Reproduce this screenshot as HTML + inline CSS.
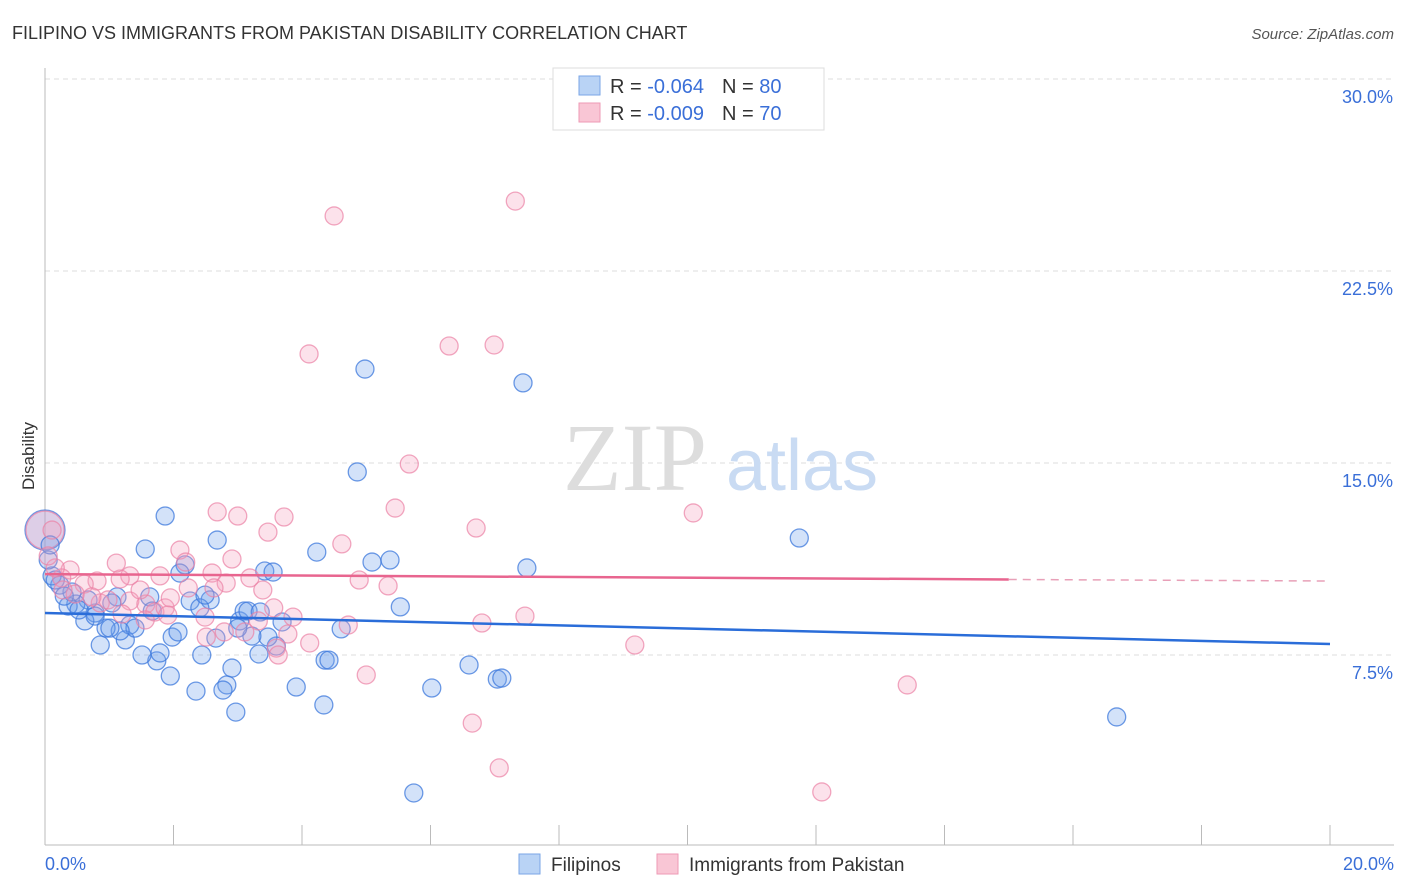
<!DOCTYPE html>
<html><head><meta charset="utf-8"><style>
body{margin:0;background:#fff;font-family:"Liberation Sans",sans-serif;}
svg{display:block}
</style></head><body>
<svg id="chart" width="1406" height="892">
<text x="12" y="39" font-size="18" fill="#333">FILIPINO VS IMMIGRANTS FROM PAKISTAN DISABILITY CORRELATION CHART</text>
<text x="1394" y="39" font-size="15" fill="#555" font-style="italic" text-anchor="end">Source: ZipAtlas.com</text>
<text x="34" y="456" font-size="17" fill="#333" text-anchor="middle" transform="rotate(-90 34 456)">Disability</text>
<g id="grid"></g>
<text x="635" y="490" font-size="96" fill="#ddd" font-family="Liberation Serif" text-anchor="middle">ZIP</text>
<text x="802" y="490" font-size="72" fill="#c9dbf3" text-anchor="middle">atlas</text>
<g id="marks"></g>
<g>
<rect x="553" y="68" width="271" height="62" fill="#fff" stroke="#ddd"/>
<rect x="579" y="76" width="21" height="19" fill="#b9d3f5" stroke="#7aa6e6"/>
<rect x="579" y="103" width="21" height="19" fill="#f9c6d5" stroke="#ee9ab5"/>
<text x="610" y="93" font-size="20" fill="#333">R = <tspan fill="#3a6fd8">-0.064</tspan><tspan dx="18">N = </tspan><tspan fill="#3a6fd8">80</tspan></text>
<text x="610" y="120" font-size="20" fill="#333">R = <tspan fill="#3a6fd8">-0.009</tspan><tspan dx="18">N = </tspan><tspan fill="#3a6fd8">70</tspan></text>
</g>
<g>
<rect x="519" y="854" width="21" height="20" fill="#b9d3f5" stroke="#7aa6e6"/>
<text x="551" y="871" font-size="19" fill="#333">Filipinos</text>
<rect x="657" y="854" width="21" height="20" fill="#f9c6d5" stroke="#ee9ab5"/>
<text x="689" y="871" font-size="19" fill="#333">Immigrants from Pakistan</text>
</g>
</svg>
<script>
const yTicks=[7.5,15,22.5,30];
const yTickLabels=["7.5%","15.0%","22.5%","30.0%"];
const xTickLabels=["0.0%","20.0%"];
const blueX=[1.87,1.56,2.68,2.18,2.10,3.42,3.55,4.23,4.86,4.98,7.44,5.09,5.37,7.50,11.74,5.53,16.68,5.74,6.02,6.60,7.04,7.11,4.36,4.42,4.34,3.91,2.97,2.83,2.77,2.35,1.95,1.74,1.51,1.79,2.44,2.91,3.33,3.60,3.47,3.22,3.03,3.10,3.16,3.69,4.61,2.57,2.26,1.63,1.67,1.12,1.04,0.78,0.62,0.86,1.25,1.32,1.40,1.17,0.95,0.67,0.48,0.36,0.42,0.23,0.11,0.16,0.05,0.08,0.78,1.98,2.41,2.66,3.00,3.35,2.07,0.53,0.30,1.01,2.49];
const blueY=[12.93,11.64,11.99,11.02,10.70,10.78,10.74,11.52,14.65,18.67,18.13,11.13,11.21,10.90,12.07,9.38,5.08,2.11,6.21,7.11,6.56,6.60,7.30,7.30,5.55,6.25,5.27,6.33,6.13,6.09,6.68,7.27,7.50,7.58,7.50,6.99,7.54,7.85,8.20,8.24,8.83,9.22,9.22,8.79,8.52,9.65,9.61,9.77,9.22,9.77,9.53,9.14,8.83,7.89,8.09,8.67,8.55,8.44,8.55,9.65,9.49,9.41,9.96,10.23,10.59,10.43,11.21,11.80,9.02,8.20,9.34,8.16,8.55,9.18,8.40,9.26,9.80,8.55,9.84];
const pinkX=[4.50,7.32,4.11,6.29,6.99,5.67,5.45,6.71,10.09,2.68,3.00,3.72,3.47,4.62,2.91,2.10,2.19,2.60,2.82,3.19,3.39,4.89,5.34,2.23,1.32,1.79,1.17,1.11,0.81,0.61,0.39,0.26,0.16,0.05,0.11,0.47,0.86,0.98,1.32,1.57,1.71,1.87,2.49,2.79,2.51,3.32,3.86,3.78,3.60,3.63,4.12,5.00,4.72,6.80,7.47,6.65,7.07,9.18,13.42,12.09,2.63,1.95,0.73,1.48,0.28,3.56,3.11,1.56,1.91,1.20];
const pinkY=[24.65,25.23,19.26,19.57,19.61,14.96,13.24,12.46,13.05,13.09,12.93,12.89,12.30,11.84,11.25,11.60,11.13,10.70,10.31,10.51,10.04,10.43,10.20,10.12,10.59,10.59,10.47,11.09,10.39,10.27,10.82,10.51,10.90,11.37,12.38,9.88,9.53,9.65,9.61,9.49,9.18,9.34,8.98,8.40,8.20,8.83,8.98,8.32,7.77,7.50,7.97,6.72,8.67,8.75,9.02,4.84,3.09,7.89,6.33,2.15,10.12,9.73,9.77,10.04,10.04,9.34,8.40,8.87,9.06,9.10];
const bigPoint=[0,12.38];
const blueTrend=[9.14,7.93];
const pinkTrend=[10.66,10.45,10.39];
const pinkSolidEnd=15;

const X=v=>45+v/20*1285, Y=v=>847-v/7.5*192;
const NS="http://www.w3.org/2000/svg";
function mk(tag,attrs,parent){const e=document.createElementNS(NS,tag);for(const k in attrs)e.setAttribute(k,attrs[k]);parent.appendChild(e);return e;}
const grid=document.getElementById('grid'), marks=document.getElementById('marks');
yTicks.forEach((t,i)=>{
 const l=mk('line',{x1:45,x2:1394,y1:Y(t),y2:Y(t),stroke:'#ddd','stroke-dasharray':'5,4'},grid);
 
 
 const tx=mk('text',{x:1393,y:Y(t)+24,'font-size':18,fill:'#3a6fd8','text-anchor':'end'},grid);
 tx.textContent=yTickLabels[i];
 
 
});
const ax=mk('line',{x1:45,x2:45,y1:68,y2:845,stroke:'#bbb'},grid);


const bx=mk('line',{x1:45,x2:1394,y1:845,y2:845,stroke:'#bbb'},grid);


for(let i=0;i<=10;i++){
 const t=mk('line',{x1:X(i*2),x2:X(i*2),y1:825,y2:845,stroke:'#bbb'},grid);
 
 
}
[[0,'start',45],[20,'end',1394]].forEach((d,i)=>{
 const tx=mk('text',{x:d[2],y:870,'font-size':18,fill:'#3a6fd8','text-anchor':d[1]},grid);
 tx.textContent=xTickLabels[i];
 
 
});
function dot(x,y,r,fill,stroke,name){
 const c=mk('circle',{cx:X(x),cy:Y(y),r:r,fill:fill,stroke:stroke,'stroke-width':1.3},marks);
 
 
}
const bf='rgba(110,160,235,0.3)',bs='rgba(60,120,220,0.75)',pf='rgba(245,160,190,0.3)',ps='rgba(235,130,165,0.7)';
dot(bigPoint[0],bigPoint[1],20,bf,bs,'filipino-point-large');
dot(bigPoint[0],bigPoint[1],19,pf,ps,'pakistan-point-large');
blueX.forEach((x,i)=>dot(x,blueY[i],9,bf,bs,'filipino-point'));
pinkX.forEach((x,i)=>dot(x,pinkY[i],9,pf,ps,'pakistan-point'));
let l=mk('line',{x1:X(0),y1:Y(blueTrend[0]),x2:X(20),y2:Y(blueTrend[1]),stroke:'#2a6dd9','stroke-width':2.5},marks);


l=mk('line',{x1:X(0),y1:Y(pinkTrend[0]),x2:X(pinkSolidEnd),y2:Y(pinkTrend[1]),stroke:'#e8658f','stroke-width':2.5},marks);


l=mk('line',{x1:X(pinkSolidEnd),y1:Y(pinkTrend[1]),x2:X(20),y2:Y(pinkTrend[2]),stroke:'#e8a0b8','stroke-width':1.5,'stroke-dasharray':'8,6'},marks);


</script>
</body></html>
